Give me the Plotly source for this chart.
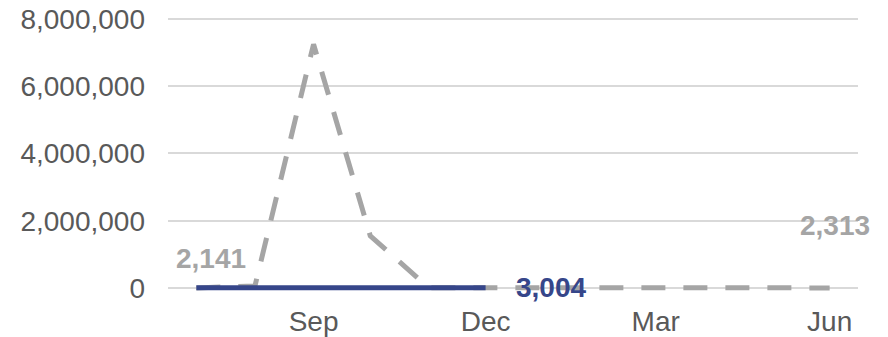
import plotly.graph_objects as go

# Monthly series, July through June
months = ["2020-07-01", "2020-08-01", "2020-09-01", "2020-10-01", "2020-11-01", "2020-12-01",
          "2021-01-01", "2021-02-01", "2021-03-01", "2021-04-01", "2021-05-01", "2021-06-01"]
prior_values = [2141, 60000, 7250000, 1550000, 5000, 2600,
                2500, 2450, 2400, 2380, 2350, 2313]
current_months = months[:6]
current_values = [2900, 3100, 3200, 2800, 2950, 3004]

y_ticks = [0, 2000000, 4000000, 6000000, 8000000]

GREY = "#A5A5A5"
NAVY = "#36468A"
TEXT = "#595959"
GRID = "#D9D9D9"
FONT = "Liberation Sans, Arial, sans-serif"
SIZE = 28

fig = go.Figure()
fig.add_trace(go.Scatter(
    x=months, y=prior_values, mode="lines",
    line=dict(color=GREY, width=5, dash="24px,18px"),
    cliponaxis=False, hoverinfo="skip",
))
fig.add_trace(go.Scatter(
    x=current_months, y=current_values, mode="lines",
    line=dict(color=NAVY, width=5),
    cliponaxis=False, hoverinfo="skip",
))

# Value labels on the first/last points
label_font = dict(family=FONT, size=SIZE, color=GREY, weight="bold")
fig.add_annotation(x=months[0], y=prior_values[0], text=f"{prior_values[0]:,}",
                   showarrow=False, xshift=15, yshift=29, font=label_font)
fig.add_annotation(x=months[-1], y=prior_values[-1], text=f"{prior_values[-1]:,}",
                   showarrow=False, xshift=5, yshift=62, font=label_font)
fig.add_annotation(x=current_months[-1], y=current_values[-1], text=f"{current_values[-1]:,}",
                   showarrow=False, xanchor="left", xshift=28, yshift=0,
                   font=dict(family=FONT, size=SIZE, color=NAVY, weight="bold"))

fig.update_layout(
    width=888, height=337,
    margin=dict(l=168, r=30, t=17, b=44),
    paper_bgcolor="white", plot_bgcolor="white",
    showlegend=False,
    font=dict(family=FONT, size=SIZE, color=TEXT),
    xaxis=dict(
        type="date",
        range=["2020-06-16", "2021-06-16"],
        tickvals=["2020-09-01", "2020-12-01", "2021-03-01", "2021-06-01"],
        tickformat="%b",
        showgrid=False, zeroline=False, showline=False,
        ticks="", ticklabelstandoff=9, automargin=False,
        tickfont=dict(family=FONT, size=SIZE, color=TEXT),
    ),
    yaxis=dict(
        range=[-150000, 8060000],
        tickvals=y_ticks,
        tickformat=",d",
        showgrid=True, gridcolor=GRID, gridwidth=1.5,
        zeroline=False, showline=False,
        ticks="", ticklabelstandoff=22, automargin=False,
        tickfont=dict(family=FONT, size=SIZE, color=TEXT),
    ),
)

fig.write_html("out.html")
